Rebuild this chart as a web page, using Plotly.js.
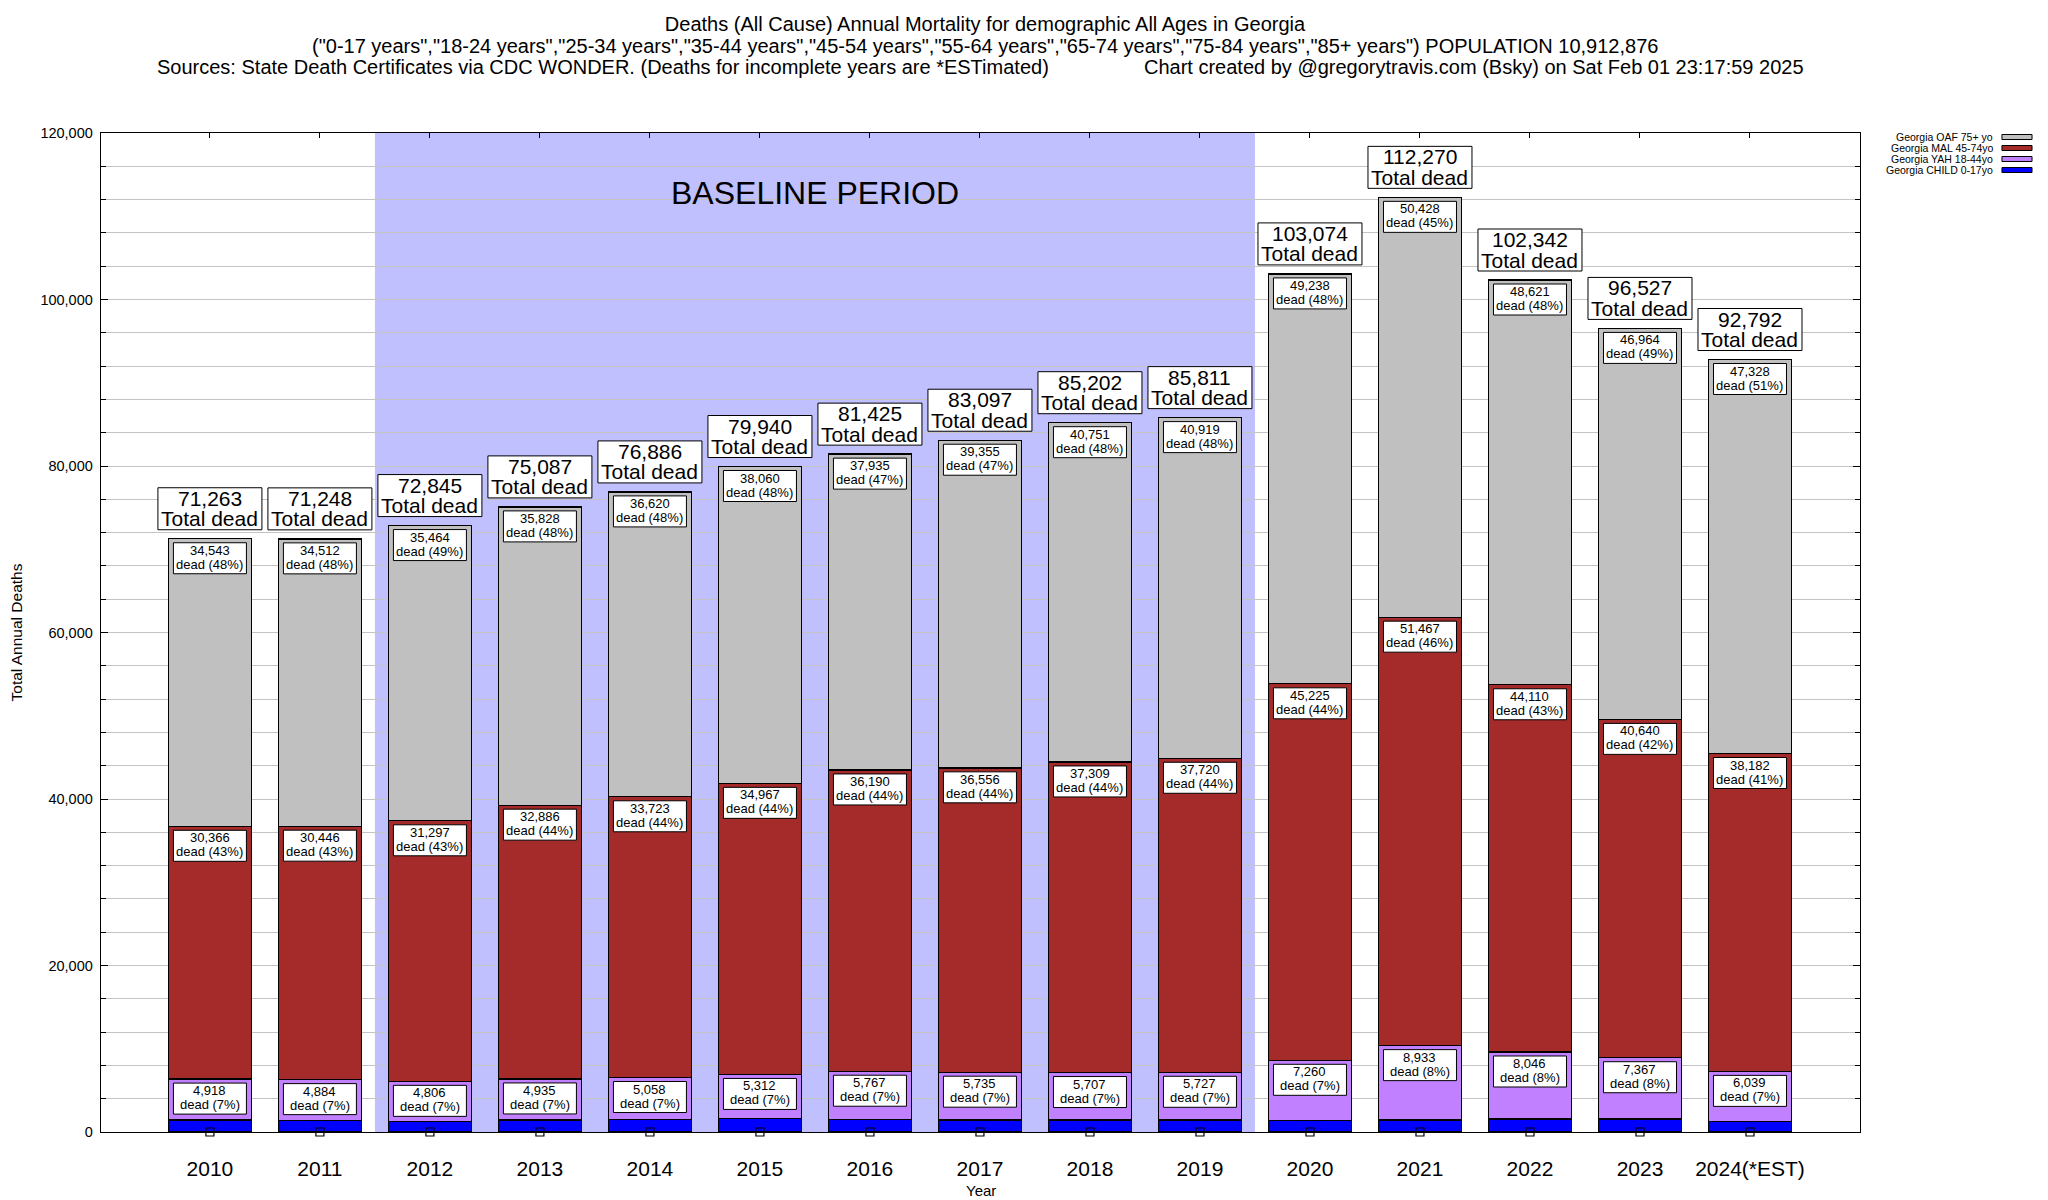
<!DOCTYPE html>
<html>
<head>
<meta charset="utf-8">
<script src="https://cdn.plot.ly/plotly-3.0.1.min.js"></script>
<style>html,body{margin:0;padding:0;background:#fff;}#chart{width:2048px;height:1200px;}</style>
</head>
<body>
<div id="chart"></div>
<script>
const years = ["2010","2011","2012","2013","2014","2015","2016","2017","2018","2019","2020","2021","2022","2023","2024(*EST)"];
const totalDead = [71263,71248,72845,75087,76886,79940,81425,83097,85202,85811,103074,112270,102342,96527,92792];
const oaf75 = [34543,34512,35464,35828,36620,38060,37935,39355,40751,40919,49238,50428,48621,46964,47328];
const mal45_74 = [30366,30446,31297,32886,33723,34967,36190,36556,37309,37720,45225,51467,44110,40640,38182];
const yah18_44 = [4918,4884,4806,4935,5058,5312,5767,5735,5707,5727,7260,8933,8046,7367,6039];
const child0_17 = [1436,1406,1278,1438,1485,1601,1533,1451,1435,1445,1351,1442,1565,1556,1243];
const seriesNames = ["Georgia CHILD 0-17yo","Georgia YAH 18-44yo","Georgia MAL 45-74yo","Georgia OAF 75+ yo"];
const seriesColors = ["#0000ff","#c080ff","#a52a2a","#c0c0c0"];
const baselineStart = "2012", baselineEnd = "2019";
const titleLine1 = 'Deaths (All Cause) Annual Mortality for demographic All Ages in Georgia';
const titleLine2 = '("0-17 years","18-24 years","25-34 years","35-44 years","45-54 years","55-64 years","65-74 years","75-84 years","85+ years") POPULATION 10,912,876';
const titleLine3a = 'Sources: State Death Certificates via CDC WONDER. (Deaths for incomplete years are *ESTimated)';
const titleLine3b = 'Chart created by @gregorytravis.com (Bsky) on Sat Feb 01 23:17:59 2025';

const series = [child0_17, yah18_44, mal45_74, oaf75];
const fmt = v => v.toLocaleString('en-US');
const FONT = 'Liberation Sans, Arial, Helvetica, sans-serif';
const XR = [-0.99, 15.0];

const traces = series.map((vals, i) => ({
  type: 'bar', x: years, y: vals, name: seriesNames[i],
  width: 0.75,
  marker: {color: seriesColors[i], line: {color: '#000', width: 1.3}},
  hoverinfo: 'x+y+name', showlegend: false
}));
traces.push({
  type: 'scatter', mode: 'markers', x: years, y: years.map(() => 0),
  xaxis: 'x2', yaxis: 'y', cliponaxis: false, showlegend: false, hoverinfo: 'skip',
  marker: {symbol: 'square-open', size: 8, color: '#000', line: {width: 1.2, color: '#000'}}
});

const annotations = [];
const bi0 = years.indexOf(baselineStart), bi1 = years.indexOf(baselineEnd);
const shapes = [{
  type: 'rect', xref: 'x', yref: 'paper', x0: bi0 - 0.5, x1: bi1 + 0.5, y0: 0, y1: 1,
  fillcolor: '#c0c0ff', line: {width: 0}, layer: 'below'
}];
function labelBox(j, yv, y0, y1, halfW) {
  shapes.push({
    type: 'rect', layer: 'above', xref: 'x', yref: 'y',
    xsizemode: 'pixel', xanchor: j, x0: -halfW, x1: halfW,
    ysizemode: 'pixel', yanchor: yv, y0: y0, y1: y1,
    fillcolor: '#fff', line: {color: '#000', width: 1}
  });
}
function labelText(j, yv, shift, txt, size) {
  annotations.push({
    x: j, y: yv, xref: 'x', yref: 'y', xanchor: 'center', yanchor: 'middle', yshift: shift,
    text: txt, showarrow: false, font: {family: FONT, size: size, color: '#000'}
  });
}
years.forEach((yr, j) => {
  let cum = 0;
  series.forEach((vals, i) => {
    cum += vals[j];
    if (i === 0) return;
    const pct = Math.round(vals[j] / totalDead[j] * 100);
    labelBox(j, cum, -4, -35, 36.5);
    labelText(j, cum, -11.5, fmt(vals[j]), 13);
    labelText(j, cum, -25.5, 'dead (' + pct + '%)', 13);
  });
  labelBox(j, totalDead[j], 9, 51, 52);
  labelText(j, totalDead[j], 40.5, fmt(totalDead[j]), 21);
  labelText(j, totalDead[j], 20, 'Total dead', 21);
});
annotations.push({
  x: (bi0 + bi1) / 2, y: 112800, xref: 'x', yref: 'y', text: 'BASELINE PERIOD', showarrow: false,
  font: {family: FONT, size: 32, color: '#000'}
});
annotations.push({
  xref: 'paper', yref: 'paper', x: (985 - 101) / 1759, y: 1 + (133 - 46) / 999, xanchor: 'center', yanchor: 'middle',
  text: titleLine2, showarrow: false, font: {family: FONT, size: 20, color: '#000'}
});
annotations.push({
  xref: 'paper', yref: 'paper', x: (155 - 101) / 1759, y: 1 + (133 - 67) / 999, xanchor: 'left', yanchor: 'middle',
  text: titleLine3a, showarrow: false, font: {family: FONT, size: 20, color: '#000'}
});
annotations.push({
  xref: 'paper', yref: 'paper', x: (1806 - 101) / 1759, y: 1 + (133 - 67) / 999, xanchor: 'right', yanchor: 'middle',
  text: titleLine3b, showarrow: false, font: {family: FONT, size: 20, color: '#000'}
});
const legendRows = [3, 2, 1, 0];
legendRows.forEach((si, r) => {
  const yp = 1 - (4 + r * 11) / 999;
  annotations.push({
    xref: 'paper', yref: 'paper', x: 1.0765, y: yp, xanchor: 'right', yanchor: 'middle',
    text: seriesNames[si], showarrow: false, font: {family: FONT, size: 10.5, color: '#000'}
  });
  shapes.push({
    type: 'rect', xref: 'paper', yref: 'paper', x0: 1.0807, x1: 1.0978,
    y0: yp - 2.5 / 999, y1: yp + 2.5 / 999,
    fillcolor: seriesColors[si], line: {color: '#000', width: 1}
  });
});
annotations.push({
  xref: 'paper', yref: 'paper', x: 0.5, y: 0, yshift: -58, yanchor: 'middle', text: 'Year',
  showarrow: false, font: {family: FONT, size: 15, color: '#000'}
});

const layout = {
  width: 2048, height: 1200,
  margin: {l: 101, r: 188, t: 133, b: 68},
  paper_bgcolor: '#fff', plot_bgcolor: '#fff',
  barmode: 'stack', bargap: 0.25,
  font: {family: FONT, color: '#000'},
  title: {
    text: titleLine1,
    x: 985 / 2048, xanchor: 'center', xref: 'container', y: 1 - 24 / 1200, yanchor: 'middle', yref: 'container',
    font: {family: FONT, size: 20, color: '#000'}
  },
  xaxis: {
    type: 'category', categoryorder: 'array', categoryarray: years,
    range: XR, showgrid: false, zeroline: false,
    showline: true, linecolor: '#000', linewidth: 1.3, mirror: true,
    ticks: '', tickfont: {family: FONT, size: 21, color: '#000'}, ticklabelstandoff: 17
  },
  xaxis2: {
    type: 'category', categoryorder: 'array', categoryarray: years,
    range: XR, overlaying: 'x', side: 'top', anchor: 'y',
    showgrid: false, zeroline: false, showline: false, showticklabels: false,
    ticks: 'inside', ticklen: 5, tickcolor: '#000', tickwidth: 1
  },
  yaxis: {
    range: [0, 120000], dtick: 20000, tick0: 0, tickformat: ',d',
    showgrid: true, gridcolor: '#c4c4c4', gridwidth: 1, zeroline: false,
    showline: true, linecolor: '#000', linewidth: 1.3, mirror: 'ticks',
    ticks: 'inside', ticklen: 7, tickcolor: '#000', tickwidth: 1,
    tickfont: {family: FONT, size: 14.5, color: '#000'}, ticklabelstandoff: 4,
    minor: {dtick: 4000, tick0: 0, showgrid: true, gridcolor: '#c4c4c4', gridwidth: 1,
      ticks: 'inside', ticklen: 5, tickcolor: '#000'},
    title: {text: 'Total Annual Deaths', font: {family: FONT, size: 15.5, color: '#000'}, standoff: 14}
  },
  annotations: annotations,
  shapes: shapes,
  showlegend: false
};
Plotly.newPlot('chart', traces, layout, {displayModeBar: false, staticPlot: true});
</script>
</body>
</html>
